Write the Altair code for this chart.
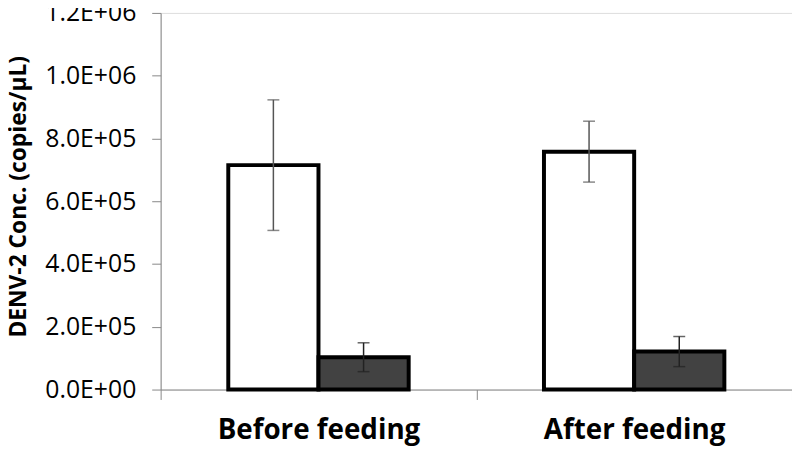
import altair as alt
import pandas as pd

categories = ["Before feeding", "After feeding"]
series_names = ["Series 1", "Series 2"]
series1_mean = [7.15e5, 7.58e5]
series1_err = [2.08e5, 0.97e5]
series2_mean = [1.03e5, 1.21e5]
series2_err = [0.46e5, 0.48e5]

y_tick_values = [0, 200000, 400000, 600000, 800000, 1000000, 1200000]
y_tick_labels = ["0.0E+00", "2.0E+05", "4.0E+05", "6.0E+05", "8.0E+05", "1.0E+06", "1.2E+06"]

rows = []
for i, c in enumerate(categories):
    rows.append({"group": c, "series": series_names[0], "mean": series1_mean[i], "err": series1_err[i]})
    rows.append({"group": c, "series": series_names[1], "mean": series2_mean[i], "err": series2_err[i]})
df = pd.DataFrame(rows)

label_expr = ""
for v, l in zip(y_tick_values, y_tick_labels):
    label_expr += f"datum.value == {v} ? '{l}' : "
label_expr += "''"

FONT = "Open Sans"

x_enc = alt.X(
    "group:N",
    sort=categories,
    scale=alt.Scale(paddingInner=0, paddingOuter=0),
    axis=alt.Axis(
        title=None,
        labelAngle=0,
        labelFont=FONT,
        labelFontSize=28,
        labelFontWeight="bold",
        labelColor="black",
        labelLimit=0,
        tickBand="extent",
        tickSize=10,
        labelPadding=17,
        domainColor="#888888",
        tickColor="#888888",
    ),
)
xoff_enc = alt.XOffset(
    "series:N",
    sort=series_names,
    scale=alt.Scale(paddingOuter=0.75, paddingInner=0),
)

base = alt.Chart(df).transform_calculate(
    lo="datum.mean - datum.err", hi="datum.mean + datum.err"
)

y_scale = alt.Scale(domain=[0, 1200000], nice=False)
y_axis = alt.Axis(
    values=y_tick_values,
    labelExpr=label_expr,
    title="DENV-2 Conc. (copies/μL)",
    titleFont=FONT,
    titleFontSize=23,
    titleFontWeight="bold",
    titleColor="black",
    titlePadding=14,
    titleY=185,
    labelFont=FONT,
    labelFontSize=25,
    labelColor="black",
    labelPadding=16,
    tickSize=9,
    grid=False,
    domainColor="#888888",
    tickColor="#888888",
)

bars = base.mark_bar(stroke="black", strokeWidth=4).encode(
    x=x_enc,
    xOffset=xoff_enc,
    y=alt.Y("mean:Q", scale=y_scale, axis=y_axis),
    fill=alt.Fill(
        "series:N",
        scale=alt.Scale(domain=series_names, range=["white", "#424242"]),
        legend=None,
    ),
)

rules = base.mark_rule(strokeWidth=1.5).encode(
    x=alt.X("group:N", sort=categories),
    xOffset=alt.XOffset("series:N", sort=series_names),
    y="lo:Q",
    y2="hi:Q",
    color=alt.Color(
        "series:N",
        scale=alt.Scale(domain=series_names, range=["#555555", "#222222"]),
        legend=None,
    ),
)

caps_hi = base.mark_tick(thickness=1.5, size=12, orient="horizontal").encode(
    x=alt.X("group:N", sort=categories),
    xOffset=alt.XOffset("series:N", sort=series_names),
    y="hi:Q",
    color=alt.Color("series:N", legend=None),
)
caps_lo = base.mark_tick(thickness=1.5, size=12, orient="horizontal").encode(
    x=alt.X("group:N", sort=categories),
    xOffset=alt.XOffset("series:N", sort=series_names),
    y="lo:Q",
    color=alt.Color("series:N", legend=None),
)

chart = (
    alt.layer(bars, rules, caps_hi, caps_lo)
    .properties(
        width=637,
        height=380,
        autosize=alt.AutoSizeParams(type="none"),
        padding={"left": 154, "top": 3, "right": 0, "bottom": 56},
    )
    .configure_view(stroke="#888888", strokeWidth=1)
    .configure(background="white")
)

chart.save("out.html", embed_options={"renderer": "svg", "actions": False})
